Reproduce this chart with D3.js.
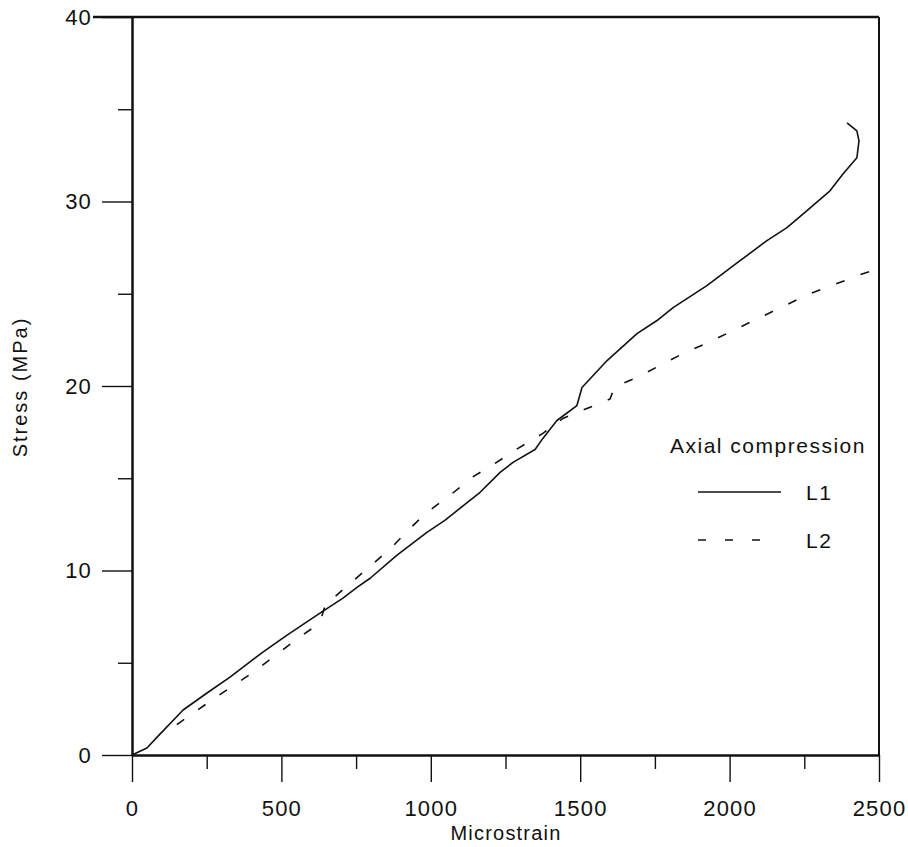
<!DOCTYPE html>
<html>
<head>
    <title>Axial compression</title>
    <script src="https://d3js.org/d3.v7.min.js"></script>
    <style>
        body { margin: 0; background: #fff; }
        svg text { font-family: "Liberation Sans", Arial, sans-serif; fill: #111; }
    </style>
</head>
<body>
    <svg width="908" height="847"></svg>
    <script>
        // L1 (solid)
        var l1Strain = [0, 50, 84, 171, 251, 328, 438, 519, 619, 706, 753, 797, 887, 987, 1047, 1165, 1232, 1275, 1349, 1375, 1422, 1489, 1506, 1590, 1690, 1757, 1811, 1924, 2035, 2125, 2192, 2259, 2336, 2380, 2426, 2433, 2426, 2393];
        var l1Stress = [0, 0.38, 0.97, 2.44, 3.36, 4.22, 5.58, 6.50, 7.58, 8.50, 9.09, 9.58, 10.83, 12.07, 12.72, 14.24, 15.32, 15.86, 16.56, 17.16, 18.13, 18.94, 19.92, 21.38, 22.84, 23.55, 24.25, 25.44, 26.79, 27.88, 28.58, 29.50, 30.58, 31.50, 32.37, 33.29, 33.83, 34.26];

        // L2 (dashed)
        var l2Strain = [150, 248, 321, 402, 472, 552, 615, 635, 650, 670, 723, 793, 863, 927, 987, 1064, 1138, 1215, 1292, 1375, 1442, 1533, 1600, 1615, 1690, 1767, 1844, 1928, 2018, 2102, 2185, 2269, 2359, 2446, 2490];
        var l2Stress = [1.65, 2.76, 3.57, 4.44, 5.30, 6.28, 7.0, 7.5, 8.3, 8.45, 9.2, 10.18, 11.15, 12.23, 13.15, 14.07, 15.05, 15.81, 16.62, 17.43, 18.24, 18.85, 19.3, 19.95, 20.46, 21.11, 21.76, 22.35, 23.06, 23.71, 24.36, 25.01, 25.55, 26.09, 26.3];

        var xMajor = [0, 500, 1000, 1500, 2000, 2500];
        var xMinor = [250, 750, 1250, 1750, 2250];
        var yMajor = [0, 10, 20, 30, 40];
        var yMinor = [5, 15, 25, 35];

        var legendTitle = "Axial compression";
        var seriesNames = ["L1", "L2"];

        var svg = d3.select("svg");

        var x = d3.scaleLinear().domain([0, 2500]).range([132, 879]);
        var y = d3.scaleLinear().domain([0, 40]).range([755, 17]);

        function plainTicks(g) {
            g.select(".domain").remove();
            g.selectAll(".tick line").attr("stroke", "#111").attr("stroke-width", 1.4);
        }

        // x axis (bottom): minor ticks, major ticks, then line + labels
        svg.append("g")
            .attr("transform", "translate(0,755)")
            .call(d3.axisBottom(x).tickValues(xMinor).tickSize(14).tickFormat(""))
            .call(plainTicks);
        svg.append("g")
            .attr("transform", "translate(0,755)")
            .call(d3.axisBottom(x).tickValues(xMajor).tickSize(27).tickFormat(""))
            .call(plainTicks);

        var xAx = svg.append("g")
            .attr("transform", "translate(0,755)")
            .call(d3.axisBottom(x).tickValues(xMajor).tickSize(0).tickFormat(d3.format("d")));
        xAx.select(".domain").attr("stroke", "#111").attr("stroke-width", 2.5);
        xAx.selectAll(".tick text")
            .attr("y", 61).attr("dy", null)
            .attr("fill", "#111")
            .style("font-size", "22px")
            .style("letter-spacing", "1.2px");

        // y axis (left)
        svg.append("g")
            .attr("transform", "translate(132,0)")
            .call(d3.axisLeft(y).tickValues(yMinor).tickSize(14).tickFormat(""))
            .call(plainTicks);
        svg.append("g")
            .attr("transform", "translate(132,0)")
            .call(d3.axisLeft(y).tickValues(yMajor).tickSize(30).tickFormat(""))
            .call(plainTicks);

        var yAx = svg.append("g")
            .attr("transform", "translate(132,0)")
            .call(d3.axisLeft(y).tickValues(yMajor).tickSize(0).tickFormat(d3.format("d")));
        yAx.select(".domain").attr("stroke", "#111").attr("stroke-width", 2.5);
        yAx.selectAll(".tick text")
            .attr("x", -40)
            .attr("fill", "#111")
            .style("font-size", "22px")
            .style("letter-spacing", "1.2px");

        // top and right frame
        svg.append("line")
            .attr("x1", 93).attr("x2", x(2500))
            .attr("y1", y(40)).attr("y2", y(40))
            .attr("stroke", "#111").attr("stroke-width", 2.5);
        svg.append("line")
            .attr("x1", x(2500)).attr("x2", x(2500))
            .attr("y1", y(40)).attr("y2", y(0))
            .attr("stroke", "#111").attr("stroke-width", 2);

        // axis titles
        svg.append("text")
            .attr("x", 506).attr("y", 840)
            .attr("text-anchor", "middle")
            .style("font-size", "20px")
            .style("letter-spacing", "1.2px")
            .text("Microstrain");

        svg.append("text")
            .attr("transform", "translate(27,387) rotate(-90)")
            .attr("text-anchor", "middle")
            .style("font-size", "20px")
            .style("letter-spacing", "2px")
            .text("Stress (MPa)");

        // curves
        var line = d3.line()
            .x(function(d) { return x(d[0]); })
            .y(function(d) { return y(d[1]); });

        var l1 = d3.zip(l1Strain, l1Stress);
        var l2 = d3.zip(l2Strain, l2Stress);

        svg.append("path")
            .datum(l1)
            .attr("fill", "none")
            .attr("stroke", "#111")
            .attr("stroke-width", 1.6)
            .attr("stroke-linejoin", "round")
            .attr("d", line);

        svg.append("path")
            .datum(l2)
            .attr("fill", "none")
            .attr("stroke", "#111")
            .attr("stroke-width", 1.6)
            .attr("stroke-dasharray", "9,17")
            .attr("d", line);

        // legend
        var lg = svg.append("g");
        lg.append("text")
            .attr("x", 670).attr("y", 453)
            .style("font-size", "21px")
            .style("letter-spacing", "1.5px")
            .text(legendTitle);

        var dashes = ["none", "8,19"];
        seriesNames.forEach(function(name, i) {
            var yy = 492 + i * 48;
            lg.append("line")
                .attr("x1", 698).attr("x2", i === 0 ? 781 : 766)
                .attr("y1", yy).attr("y2", yy)
                .attr("stroke", "#111")
                .attr("stroke-width", 1.6)
                .attr("stroke-dasharray", dashes[i]);
            lg.append("text")
                .attr("x", 806).attr("y", yy + 8)
                .style("font-size", "21px")
                .style("letter-spacing", "1.5px")
                .text(name);
        });
    </script>
</body>
</html>
